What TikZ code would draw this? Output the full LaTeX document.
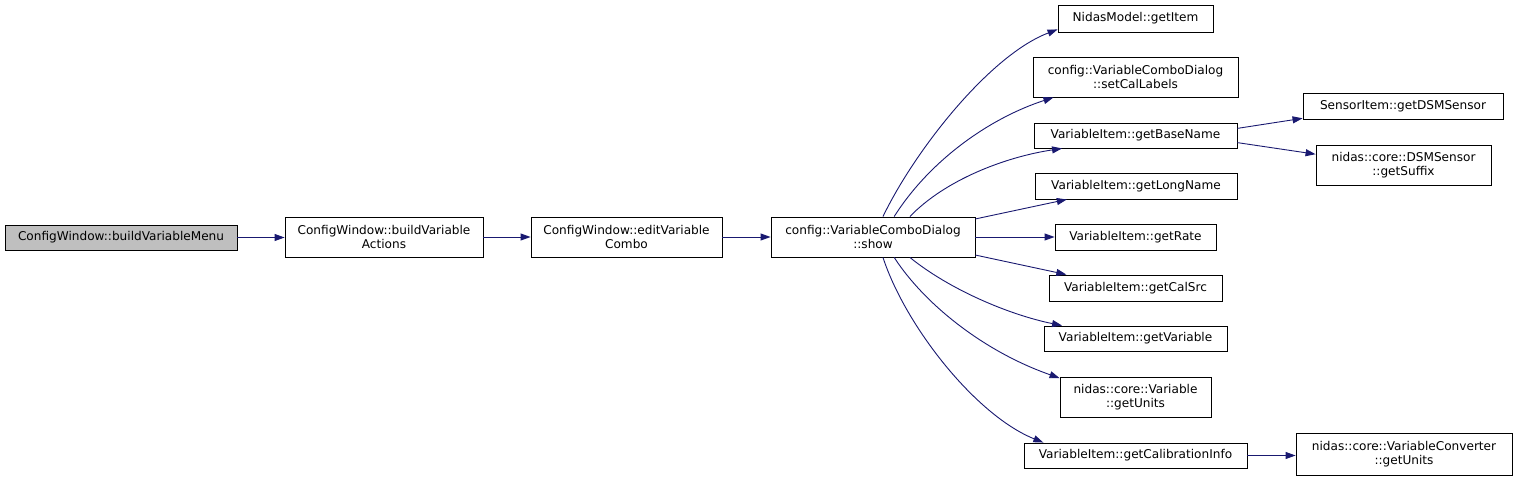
\documentclass[tikz,border=0pt]{standalone}
\usepackage{fontspec}
\setmainfont{DejaVu Sans}
\usetikzlibrary{arrows.meta}
\definecolor{edgeblue}{HTML}{191970}
\definecolor{grayfill}{HTML}{BFBFBF}
\tikzset{
  box/.style={draw=black, line width=0.9pt, fill=white, inner sep=0pt, align=center, font=\fontsize{12.1}{14.5}\selectfont},
  edge/.style={draw=edgeblue, line width=0.9pt, -{Triangle[length=10pt,width=7pt]}}
}
\begin{document}
\begin{tikzpicture}[x=1pt,y=-1pt]
\useasboundingbox (0,0) rectangle (1517,481);
\node[box,fill=grayfill,minimum width=232pt,minimum height=25pt] (A) at (121,237.5) {ConfigWindow::buildVariableMenu};
\node[box,minimum width=198pt,minimum height=40pt] (B) at (384,237) {ConfigWindow::buildVariable\\Actions};
\node[box,minimum width=191pt,minimum height=40pt] (C) at (626.5,237) {ConfigWindow::editVariable\\Combo};
\node[box,minimum width=204pt,minimum height=40pt] (D) at (873,237) {config::VariableComboDialog\\::show};
\node[box,minimum width=155pt,minimum height=27pt] (E) at (1135.5,18.5) {NidasModel::getItem};
\node[box,minimum width=205pt,minimum height=40pt] (F) at (1135.5,77) {config::VariableComboDialog\\::setCalLabels};
\node[box,minimum width=203pt,minimum height=25pt] (G) at (1135.5,135.5) {VariableItem::getBaseName};
\node[box,minimum width=202pt,minimum height=26pt] (H) at (1136,186) {VariableItem::getLongName};
\node[box,minimum width=161pt,minimum height=26pt] (I) at (1135.5,237) {VariableItem::getRate};
\node[box,minimum width=173pt,minimum height=26pt] (J) at (1135.5,288) {VariableItem::getCalSrc};
\node[box,minimum width=183pt,minimum height=25pt] (K) at (1135.5,338.5) {VariableItem::getVariable};
\node[box,minimum width=151pt,minimum height=40pt] (L) at (1135.5,397) {nidas::core::Variable\\::getUnits};
\node[box,minimum width=223pt,minimum height=25pt] (M) at (1135.5,455.5) {VariableItem::getCalibrationInfo};
\node[box,minimum width=200pt,minimum height=26pt] (N) at (1403,106) {SensorItem::getDSMSensor};
\node[box,minimum width=175pt,minimum height=40pt] (O) at (1403.5,165) {nidas::core::DSMSensor\\::getSuffix};
\node[box,minimum width=216pt,minimum height=42pt] (P) at (1404,454) {nidas::core::VariableConverter\\::getUnits};
% edges
\draw[edge] (A.east) -- (B.west |- A.east);
\draw[edge] (B.east) -- (C.west);
\draw[edge] (C.east) -- (D.west);
\draw[edge] (D.64) .. controls (915,150) and (990,55) .. (E.188);
\draw[edge] (D.44) .. controls (930,160) and (990,118) .. (F.194);
\draw[edge] (D.29) .. controls (945,180) and (1005,157) .. (G.190);
\draw[edge] (D.10) -- (H.191);
\draw[edge] (D.east) -- (I.west);
\draw[edge] (D.-10) -- (J.169);
\draw[edge] (D.-29) .. controls (950,290) and (1010,315) .. (K.170);
\draw[edge] (D.-44) .. controls (925,305) and (985,352) .. (L.166);
\draw[edge] (D.-64) .. controls (905,325) and (975,415) .. (M.172);
\draw[edge] (G.4) -- (N.187);
\draw[edge] (G.-4) -- (O.173);
\draw[edge] (M.east) -- (P.west |- M.east);
\end{tikzpicture}
\end{document}
